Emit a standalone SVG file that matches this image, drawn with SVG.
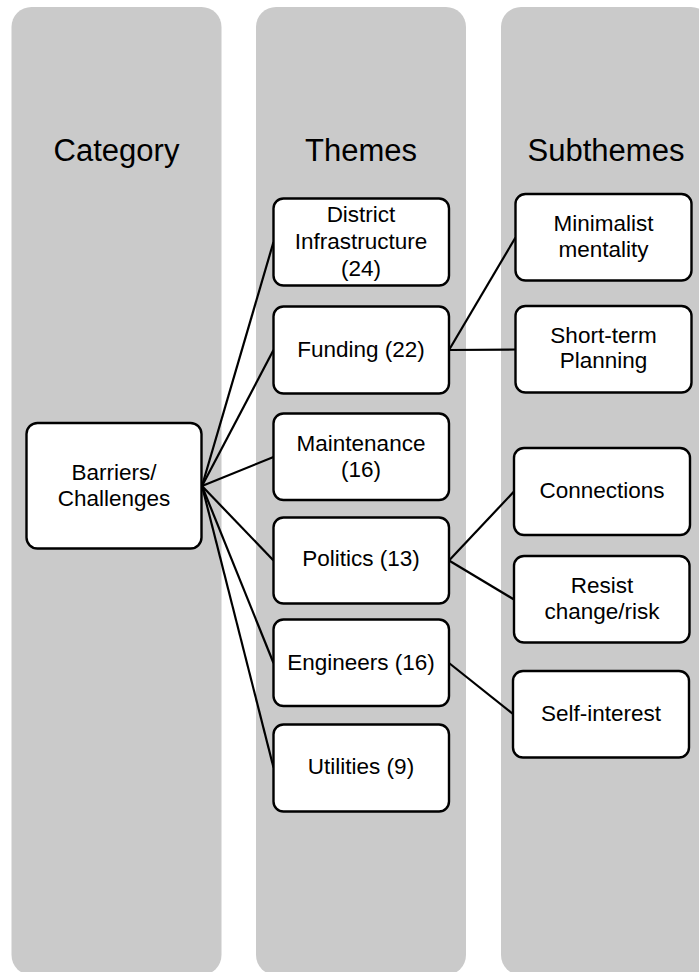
<svg xmlns="http://www.w3.org/2000/svg" width="699" height="972" viewBox="0 0 699 972">
<style>
.col{fill:#cacaca;}
.box{fill:#ffffff;stroke:#000000;stroke-width:2.4;}
.hdr{font-family:"Liberation Sans",Arial,sans-serif;font-size:31px;fill:#000;text-anchor:middle;}
.lbl{font-family:"Liberation Sans",Arial,sans-serif;font-size:22.5px;fill:#000;text-anchor:middle;}
.conn line{stroke:#000;stroke-width:2.2;fill:none;}
</style>
<rect width="699" height="972" fill="#ffffff"/>
<g id="columns">
<g id="col-category"><rect class="col" x="11.5" y="7" width="210" height="968" rx="20"/><text class="hdr" x="116.5" y="160.5">Category</text></g>
<g id="col-themes"><rect class="col" x="256" y="7" width="210" height="968" rx="20"/><text class="hdr" x="361" y="160.5">Themes</text></g>
<g id="col-subthemes"><rect class="col" x="501" y="7" width="210" height="968" rx="20"/><text class="hdr" x="606" y="160.5">Subthemes</text></g>
</g>
<g id="connectors" class="conn">
<line x1="202" y1="486" x2="273.5" y2="242"/>
<line x1="202" y1="486" x2="273.5" y2="350"/>
<line x1="202" y1="486" x2="273.5" y2="457"/>
<line x1="202" y1="486" x2="273.5" y2="560.5"/>
<line x1="202" y1="486" x2="273.5" y2="663"/>
<line x1="202" y1="486" x2="273.5" y2="767.5"/>
<line x1="449" y1="350" x2="515.5" y2="237.5"/>
<line x1="449" y1="350" x2="515.5" y2="349.5"/>
<line x1="449" y1="560.5" x2="514" y2="491.5"/>
<line x1="449" y1="560.5" x2="514" y2="599.5"/>
<line x1="449" y1="663" x2="513" y2="714"/>
</g>
<g id="barriers"><rect class="box" x="26.5" y="423" width="175" height="125.5" rx="11"/><text class="lbl" x="114" y="480">Barriers/</text><text class="lbl" x="114" y="506">Challenges</text></g>
<g id="district"><rect class="box" x="273.5" y="198.5" width="175.5" height="87" rx="10"/><text class="lbl" x="361" y="221.7">District</text><text class="lbl" x="361" y="249.3">Infrastructure</text><text class="lbl" x="361" y="276">(24)</text></g>
<g id="funding"><rect class="box" x="273.5" y="306.5" width="175.5" height="87" rx="10"/><text class="lbl" x="361" y="356.7">Funding (22)</text></g>
<g id="maintenance"><rect class="box" x="273.5" y="413.5" width="175.5" height="86.5" rx="10"/><text class="lbl" x="361" y="450.7">Maintenance</text><text class="lbl" x="361" y="477.3">(16)</text></g>
<g id="politics"><rect class="box" x="273.5" y="517.5" width="175.5" height="86" rx="10"/><text class="lbl" x="361" y="566">Politics (13)</text></g>
<g id="engineers"><rect class="box" x="273.5" y="619.5" width="175.5" height="86.5" rx="10"/><text class="lbl" x="361" y="670">Engineers (16)</text></g>
<g id="utilities"><rect class="box" x="273.5" y="724.5" width="175.5" height="87" rx="10"/><text class="lbl" x="361" y="774">Utilities (9)</text></g>
<g id="minimalist"><rect class="box" x="515.5" y="194" width="176" height="86.5" rx="10"/><text class="lbl" x="603.5" y="230.7">Minimalist</text><text class="lbl" x="603.5" y="257.3">mentality</text></g>
<g id="shortterm"><rect class="box" x="515.5" y="306" width="176" height="86.5" rx="10"/><text class="lbl" x="603.5" y="342.7">Short-term</text><text class="lbl" x="603.5" y="368.3">Planning</text></g>
<g id="connections"><rect class="box" x="514" y="448" width="176" height="87" rx="10"/><text class="lbl" x="602" y="498.3">Connections</text></g>
<g id="resist"><rect class="box" x="514" y="556" width="175.5" height="86.5" rx="10"/><text class="lbl" x="602" y="593.3">Resist</text><text class="lbl" x="602" y="619.3">change/risk</text></g>
<g id="selfinterest"><rect class="box" x="513" y="671" width="176" height="86.5" rx="10"/><text class="lbl" x="601" y="721">Self-interest</text></g>
</svg>
